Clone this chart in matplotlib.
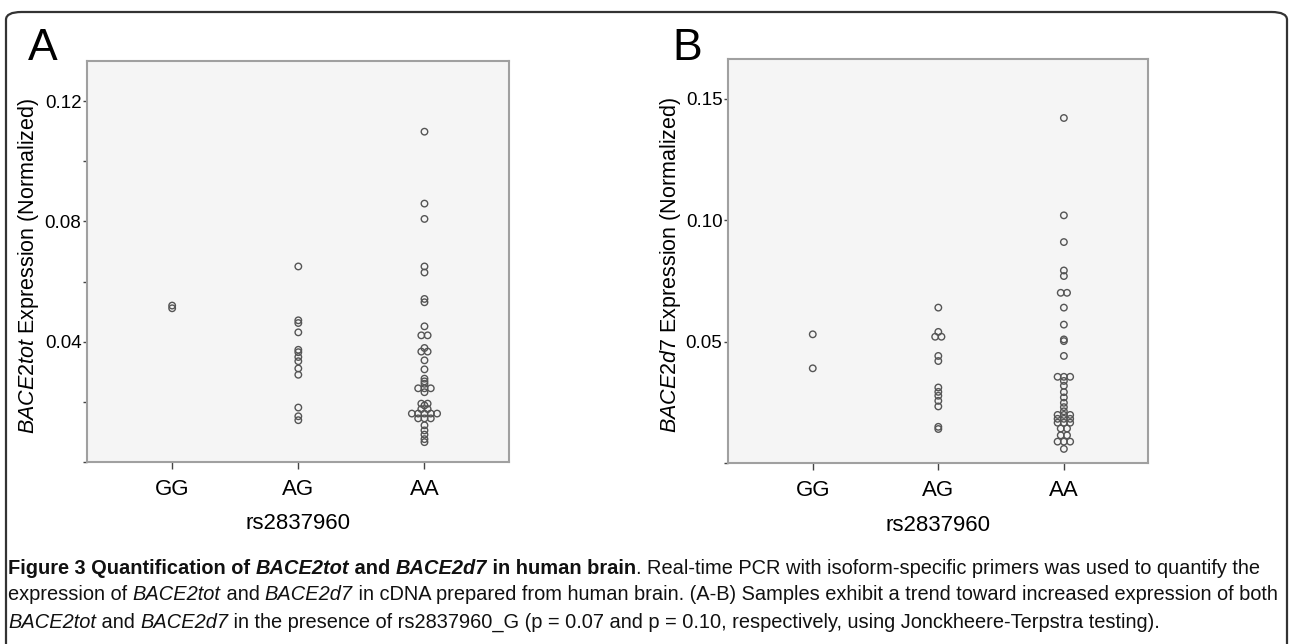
import numpy as np
import matplotlib.pyplot as plt
from matplotlib.patches import FancyBboxPatch

plt.rcParams['font.family'] = ['Liberation Sans', 'DejaVu Sans']
plt.rcParams['mathtext.fontset'] = 'custom'
plt.rcParams['mathtext.rm'] = 'Liberation Sans'
plt.rcParams['mathtext.it'] = 'Liberation Sans:italic'

genotypes = ['GG', 'AG', 'AA']

# panel A: BACE2tot expression (normalized)
tot_gg = [0.0520, 0.0511]
tot_ag = [0.0650, 0.0471, 0.0462, 0.0431, 0.0373, 0.0365, 0.0349, 0.0335,
          0.0311, 0.0290, 0.0181, 0.0152, 0.0139]
tot_aa = [0.1098, 0.0859, 0.0808, 0.0650, 0.0630, 0.0542, 0.0531, 0.0451,
          0.0421, 0.0421, 0.0379, 0.0367, 0.0367, 0.0338, 0.0308, 0.0277,
          0.0268, 0.0260, 0.0245, 0.0245, 0.0245, 0.0232, 0.0194, 0.0194,
          0.0188, 0.0176, 0.0176, 0.0161, 0.0161, 0.0161, 0.0161, 0.0161,
          0.0145, 0.0145, 0.0145, 0.0122, 0.0105, 0.0091, 0.0076, 0.0066]

# panel B: BACE2d7 expression (normalized)
d7_gg = [0.0530, 0.0390]
d7_ag = [0.0640, 0.0540, 0.0520, 0.0520, 0.0441, 0.0420, 0.0311, 0.0293,
         0.0277, 0.0256, 0.0233, 0.0149, 0.0140]
d7_aa = [0.1421, 0.1020, 0.0910, 0.0793, 0.0770, 0.0701, 0.0701, 0.0640,
         0.0570, 0.0509, 0.0502, 0.0441, 0.0355, 0.0355, 0.0355, 0.0338,
         0.0318, 0.0292, 0.0270, 0.0248, 0.0230, 0.0213, 0.0198, 0.0198,
         0.0198, 0.0182, 0.0182, 0.0182, 0.0166, 0.0166, 0.0166, 0.0142,
         0.0142, 0.0114, 0.0114, 0.0088, 0.0088, 0.0088, 0.0058]

W, H = 1293, 644
fig = plt.figure(figsize=(W / 100, H / 100), dpi=100)

# rounded frame around the whole figure
frame = FancyBboxPatch((6 / W, -0.2), (W - 12) / W, 1.2 - 12 / H,
                       boxstyle='round,pad=0,rounding_size=0.012',
                       transform=fig.transFigure, fill=False,
                       edgecolor='#333333', linewidth=1.6)
fig.patches.append(frame)


def dodge(vals, dx):
    # identical values sit side by side, like the SPSS dot plot
    vals = np.asarray(vals)
    off = np.zeros(len(vals))
    for v in np.unique(vals):
        idx = np.where(vals == v)[0]
        n = len(idx)
        off[idx] = (np.arange(n) - (n - 1) / 2) * dx
    return off


def panel(rect, groups, ylim, major, minor, gene, letter, letter_x):
    ax = fig.add_axes(rect)
    ax.set_facecolor('#f5f5f5')
    for i, vals in enumerate(groups):
        x = i + dodge(vals, 0.05)
        ax.scatter(x, vals, s=22, facecolors='none', edgecolors='#555555',
                   linewidths=1.0, zorder=3)
    ax.set_xlim(-0.675, 2.67)
    ax.set_ylim(*ylim)
    ax.set_xticks(range(len(genotypes)))
    ax.set_xticklabels(genotypes, fontsize=16)
    ax.set_yticks(major)
    ax.set_yticklabels(['%.2f' % t for t in major], fontsize=13.5)
    ax.set_yticks(minor, minor=True)
    for s in ax.spines.values():
        s.set_color('#a0a0a0')
        s.set_linewidth(1.5)
    ax.tick_params(axis='y', which='both', length=3, width=1, color='#444444', pad=1)
    ax.tick_params(axis='x', length=5, width=1, color='#444444', pad=7)
    ax.set_ylabel(r'$\mathit{%s}$ Expression (Normalized)' % gene, fontsize=15.5)
    ax.yaxis.set_label_coords(-0.108, 0.49)
    ax.set_xlabel('rs2837960', fontsize=16)
    ax.xaxis.set_label_coords(0.5, -0.128)
    fig.text(letter_x / W, 1 - 60 / H, letter, fontsize=32, va='baseline')
    return ax


panel([87 / W, 1 - 462 / H, 422 / W, 401 / H], [tot_gg, tot_ag, tot_aa],
      (0, 0.1333), [0.04, 0.08, 0.12], [0, 0.02, 0.06, 0.10], 'BACE2tot', 'A', 28)
panel([728 / W, 1 - 463 / H, 420 / W, 404 / H], [d7_gg, d7_ag, d7_aa],
      (0, 0.1664), [0.05, 0.10, 0.15], [0], 'BACE2d7', 'B', 672)

# caption, drawn piece by piece
cap_font = ['Liberation Sans', 'DejaVu Sans']
N, B, I, BI = ('normal', 'normal'), ('bold', 'normal'), ('normal', 'italic'), ('bold', 'italic')
lines = [
    [('Figure 3 Quantification of ', B), ('BACE2tot', BI), (' and ', B), ('BACE2d7', BI),
     (' in human brain', B), ('. Real-time PCR with isoform-specific primers was used to quantify the', N)],
    [('expression of ', N), ('BACE2tot', I), (' and ', N), ('BACE2d7', I),
     (' in cDNA prepared from human brain. (A-B) Samples exhibit a trend toward increased expression of both', N)],
    [('BACE2tot', I), (' and ', N), ('BACE2d7', I),
     (' in the presence of rs2837960_G (p = 0.07 and p = 0.10, respectively, using Jonckheere-Terpstra testing).', N)],
]
line_y = [568, 595, 622]

renderer = fig.canvas.get_renderer()


def seg_width(txt, st, size):
    w, sty = st
    t1 = fig.text(0, 0, '|' + txt + '|', family=cap_font, fontsize=size, weight=w, style=sty)
    t2 = fig.text(0, 0, '||', family=cap_font, fontsize=size, weight=w, style=sty)
    width = t1.get_window_extent(renderer).width - t2.get_window_extent(renderer).width
    t1.remove()
    t2.remove()
    return width


# shrink the caption until its longest line fits inside the frame
size = 13.5
target = 1272
widest = max(sum(seg_width(t, st, size) for t, st in segs) for segs in lines)
size = size * target / widest

for segs, yy in zip(lines, line_y):
    x = 8
    for txt, st in segs:
        fig.text(x / W, 1 - yy / H, txt, family=cap_font, fontsize=size,
                 weight=st[0], style=st[1], va='center', color='#111111')
        x += seg_width(txt, st, size)

fig.savefig('out.png', dpi=100)
